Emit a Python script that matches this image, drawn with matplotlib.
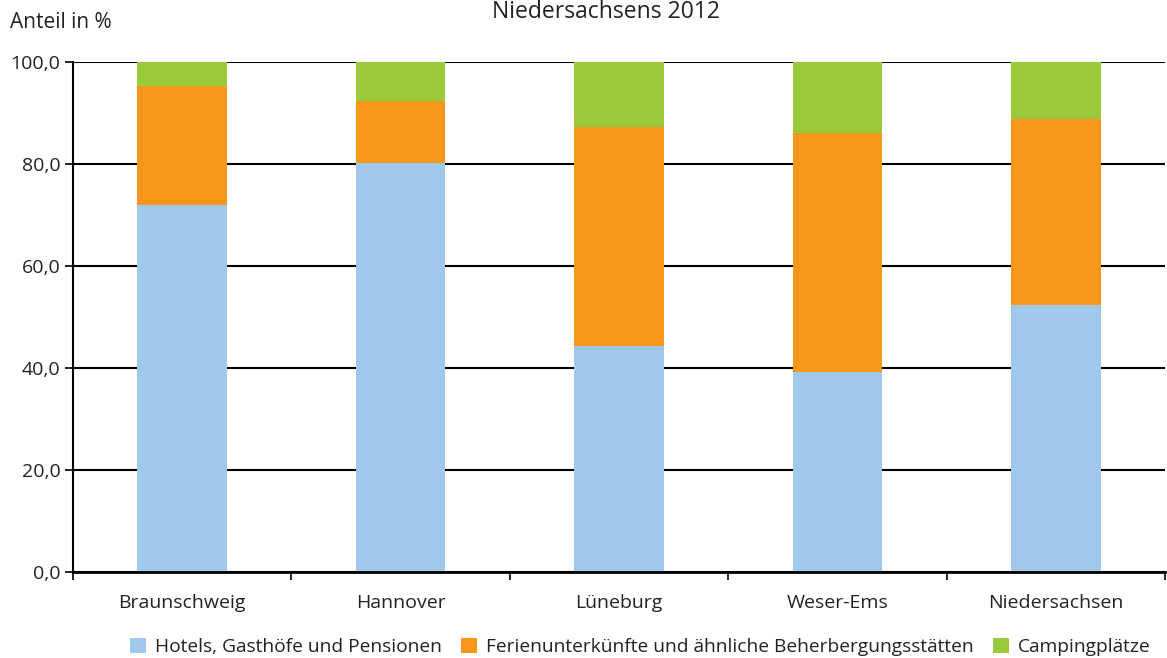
import matplotlib
matplotlib.use('Agg')
from matplotlib import pyplot as plt
from matplotlib.ticker import FixedLocator, FuncFormatter
import numpy as np

# data
regions = ['Braunschweig', 'Hannover', 'Lüneburg', 'Weser-Ems', 'Niedersachsen']
hotels = [72.0, 80.1, 44.3, 39.3, 52.3]
ferien = [23.2, 12.2, 43.0, 46.8, 36.6]
camping = [4.8, 7.7, 12.7, 13.9, 11.1]
series_names = ['Hotels, Gasthöfe und Pensionen',
                'Ferienunterkünfte und ähnliche Beherbergungsstätten',
                'Campingplätze']
colors = ['#9fc8ea', '#f7981d', '#9aca3c']

plt.rcParams['font.family'] = ['Open Sans', 'DejaVu Sans']
plt.rcParams['text.color'] = '#222222'
plt.rcParams['xtick.labelcolor'] = '#222222'
plt.rcParams['ytick.labelcolor'] = '#222222'

fig = plt.figure(figsize=(11.67, 6.58), dpi=100)
ax = fig.add_axes([73 / 1167, 1 - 572 / 658, (1165 - 73) / 1167, (572 - 62) / 658])

x = np.arange(len(regions))
bottom = np.zeros(len(regions))
for vals, name, c in zip([hotels, ferien, camping], series_names, colors):
    ax.bar(x, vals, width=0.41, bottom=bottom, color=c, label=name, zorder=2)
    bottom += np.array(vals)

ax.set_xlim(-0.5, len(regions) - 0.5)
ax.set_ylim(0, 100)
ax.set_yticks([0, 20, 40, 60, 80, 100])
ax.yaxis.set_major_formatter(FuncFormatter(lambda v, p: f'{v:.1f}'.replace('.', ',')))
ax.yaxis.grid(True, color='black', linewidth=1.5, zorder=0)
ax.set_axisbelow(True)

ax.set_xticks(x)
ax.set_xticklabels(regions)
ax.xaxis.set_minor_locator(FixedLocator(np.arange(-0.5, len(regions), 1)))
ax.tick_params(axis='x', which='major', length=0, pad=16, labelsize=14)
ax.tick_params(axis='x', which='minor', length=6, width=1.2, direction='out')
ax.tick_params(axis='y', length=6, width=1.2, labelsize=14, pad=3)

for s in ['top', 'right']:
    ax.spines[s].set_visible(False)
ax.spines['left'].set_linewidth(1.5)
ax.spines['bottom'].set_linewidth(2)

fig.text(10 / 1167, 1 - 22 / 658, 'Anteil in %', fontsize=15, va='center', ha='left')
fig.text(606 / 1167, 1 - 18 / 658, 'Niedersachsens 2012', fontsize=16.5,
         va='baseline', ha='center')

fig.legend(loc='center', bbox_to_anchor=(640 / 1167, 1 - 647 / 658), ncol=3,
           frameon=False, fontsize=13.8, handlelength=0.85, handleheight=0.85,
           handletextpad=0.45, columnspacing=1.0)

fig.savefig('out.png', dpi=100)
